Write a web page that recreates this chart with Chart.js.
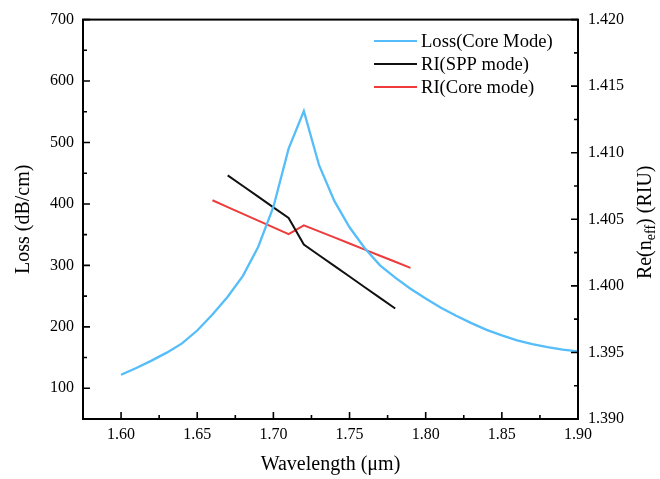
<!DOCTYPE html>
<html><head><meta charset="utf-8">
<script src="https://cdn.jsdelivr.net/npm/chart.js@4"></script>
<style>html,body{margin:0;padding:0;background:#fff;} canvas{display:block;}</style>
</head><body>
<canvas id="c" width="660" height="479"></canvas>
<script>
// ---- data ----
const wavelengthLoss = [1.60,1.61,1.62,1.63,1.64,1.65,1.66,1.67,1.68,1.69,1.70,1.71,1.72,1.73,1.74,1.75,1.76,1.77,1.78,1.79,1.80,1.81,1.82,1.83,1.84,1.85,1.86,1.87,1.88,1.89,1.90];
const lossCore = [122,133,145,158,173,194,220,249,283,330,395,490,551,463,405,362,328,300,280,262,246,231,218,206,195,186,178,172,167,163,160];
const wavelengthSPP = [1.67,1.68,1.69,1.70,1.71,1.72,1.73,1.74,1.75,1.76,1.77,1.78];
const riSPP = [1.4083,1.4075,1.4067,1.4059,1.4051,1.4031,1.4023,1.4015,1.4007,1.3999,1.3991,1.3983];
const wavelengthCore = [1.66,1.67,1.68,1.69,1.70,1.71,1.72,1.73,1.74,1.75,1.76,1.77,1.78,1.79];
const riCore = [1.40643,1.40592,1.40541,1.40490,1.40439,1.40388,1.40455,1.40409,1.40364,1.40318,1.40272,1.40226,1.40181,1.40135];
const xTicks = [1.60,1.65,1.70,1.75,1.80,1.85,1.90];
const lossTicks = [100,200,300,400,500,600,700];
const riTicks = [1.390,1.395,1.400,1.405,1.410,1.415,1.420];
const seriesLabels = ['Loss(Core Mode)','RI(SPP mode)','RI(Core mode)'];
const seriesColors = ['#55BDF9','#111111','#EE3B3B'];
const xTitle = 'Wavelength (\u03bcm)';
const yLeftTitle = 'Loss (dB/cm)';
const yRightTitleParts = ['Re(n','eff',') (RIU)'];

const FONT = "'Liberation Serif','Times New Roman',serif";

function pts(xs, ys){ return xs.map((x,i)=>({x:x,y:ys[i]})); }

const framePlugin = {
  id: 'frame',
  afterDatasetsDraw(chart){
    const ctx = chart.ctx, a = chart.chartArea;
    const sx = chart.scales.x, sl = chart.scales.yL, sr = chart.scales.yR;
    ctx.save();
    ctx.strokeStyle = '#000';
    ctx.lineWidth = 2;
    ctx.strokeRect(a.left, a.top, a.right - a.left, a.bottom - a.top);
    ctx.lineWidth = 1.6;
    ctx.beginPath();
    // x ticks (inward)
    xTicks.forEach(v=>{ const px = sx.getPixelForValue(v); ctx.moveTo(px,a.bottom); ctx.lineTo(px,a.bottom-7); });
    for(let i=0;i<xTicks.length-1;i++){ const v=(xTicks[i]+xTicks[i+1])/2; const px=sx.getPixelForValue(v); ctx.moveTo(px,a.bottom); ctx.lineTo(px,a.bottom-4); }
    // left ticks
    lossTicks.forEach(v=>{ const py = sl.getPixelForValue(v); ctx.moveTo(a.left,py); ctx.lineTo(a.left+7,py); });
    for(let i=0;i<lossTicks.length-1;i++){ const v=(lossTicks[i]+lossTicks[i+1])/2; const py=sl.getPixelForValue(v); ctx.moveTo(a.left,py); ctx.lineTo(a.left+4,py); }
    // right ticks
    riTicks.forEach(v=>{ const py = sr.getPixelForValue(v); ctx.moveTo(a.right,py); ctx.lineTo(a.right-7,py); });
    for(let i=0;i<riTicks.length-1;i++){ const v=(riTicks[i]+riTicks[i+1])/2; const py=sr.getPixelForValue(v); ctx.moveTo(a.right,py); ctx.lineTo(a.right-4,py); }
    ctx.stroke();

    // axis titles
    ctx.fillStyle = '#000';
    ctx.font = '20px ' + FONT;
    ctx.textAlign = 'center';
    ctx.textBaseline = 'middle';
    ctx.fillText(xTitle, (a.left+a.right)/2, 465);

    ctx.save();
    ctx.translate(24, (a.top+a.bottom)/2);
    ctx.rotate(-Math.PI/2);
    ctx.fillText(yLeftTitle, 0, 0);
    ctx.restore();

    // right title with subscript
    ctx.save();
    ctx.translate(646, (a.top+a.bottom)/2 + 3);
    ctx.rotate(-Math.PI/2);
    ctx.textAlign = 'left';
    const mainF = '20px ' + FONT, subF = '14px ' + FONT;
    ctx.font = mainF; const w1 = ctx.measureText(yRightTitleParts[0]).width;
    ctx.font = subF; const w2 = ctx.measureText(yRightTitleParts[1]).width;
    ctx.font = mainF; const w3 = ctx.measureText(yRightTitleParts[2]).width;
    let x0 = -(w1+w2+w3)/2;
    ctx.font = mainF; ctx.fillText(yRightTitleParts[0], x0, 0);
    ctx.font = subF; ctx.fillText(yRightTitleParts[1], x0+w1, 5);
    ctx.font = mainF; ctx.fillText(yRightTitleParts[2], x0+w1+w2, 0);
    ctx.restore();

    // legend
    ctx.font = '18.6px ' + FONT;
    ctx.textAlign = 'left';
    ctx.textBaseline = 'middle';
    chart.data.datasets.forEach((ds,i)=>{
      const y = 41 + i*23;
      ctx.strokeStyle = ds.borderColor;
      ctx.lineWidth = 2.2;
      ctx.beginPath(); ctx.moveTo(374,y); ctx.lineTo(417,y); ctx.stroke();
      ctx.fillStyle = '#000';
      ctx.fillText(ds.label, 421, y+1);
    });
    ctx.restore();
  }
};

const tickFont = {family: FONT, size: 16};

new Chart(document.getElementById('c'), {
  type: 'line',
  data: {
    datasets: [
      {label: seriesLabels[0], data: pts(wavelengthLoss, lossCore), yAxisID: 'yL', borderColor: seriesColors[0], borderWidth: 2.3, pointRadius: 0, tension: 0, fill: false},
      {label: seriesLabels[1], data: pts(wavelengthSPP, riSPP), yAxisID: 'yR', borderColor: seriesColors[1], borderWidth: 2, pointRadius: 0, tension: 0, fill: false},
      {label: seriesLabels[2], data: pts(wavelengthCore, riCore), yAxisID: 'yR', borderColor: seriesColors[2], borderWidth: 2, pointRadius: 0, tension: 0, fill: false}
    ]
  },
  options: {
    responsive: false,
    animation: false,
    devicePixelRatio: 1,
    layout: {padding: {top: 19, left: 0, right: 0, bottom: 0}},
    plugins: {legend: {display: false}, tooltip: {enabled: false}},
    scales: {
      x: {
        type: 'linear', min: 1.575, max: 1.90,
        afterBuildTicks: s => { s.ticks = xTicks.map(v=>({value:v})); },
        afterFit: s => { s.height = 60; },
        ticks: {callback: v => Number(v).toFixed(2), font: tickFont, color: '#000', padding: 6, autoSkip: false, maxRotation: 0},
        grid: {display: false, drawTicks: false},
        border: {display: false}
      },
      yL: {
        type: 'linear', position: 'left', min: 50, max: 700,
        afterBuildTicks: s => { s.ticks = lossTicks.map(v=>({value:v})); },
        afterFit: s => { s.width = 83; },
        ticks: {callback: v => String(v), font: tickFont, color: '#000', padding: 9, autoSkip: false},
        grid: {display: false, drawTicks: false},
        border: {display: false}
      },
      yR: {
        type: 'linear', position: 'right', min: 1.39, max: 1.42,
        afterBuildTicks: s => { s.ticks = riTicks.map(v=>({value:v})); },
        afterFit: s => { s.width = 82; },
        ticks: {callback: v => Number(v).toFixed(3), font: tickFont, color: '#000', padding: 10, autoSkip: false},
        grid: {display: false, drawTicks: false},
        border: {display: false}
      }
    }
  },
  plugins: [framePlugin]
});
</script>
</body></html>
